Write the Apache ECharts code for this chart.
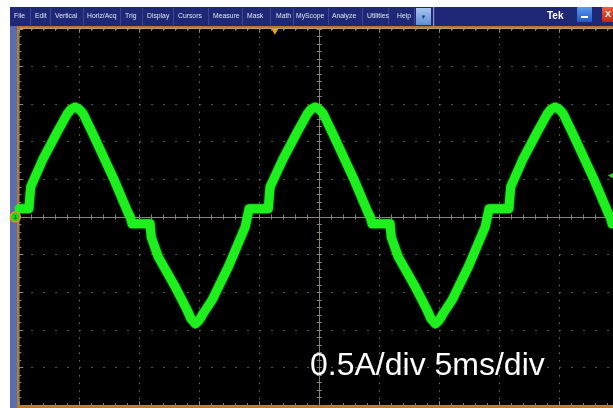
<!DOCTYPE html>
<html><head><meta charset="utf-8">
<script src="https://cdn.jsdelivr.net/npm/echarts@6/dist/echarts.min.js"></script>
<style>html,body{margin:0;padding:0;background:#fff;}#c{width:613px;height:408px;}</style>
</head><body><div id="c"></div>
<script>
// Waveform: time in ms, current in A
const timeMs = [0, 0.8, 0.95, 2.0, 3.17, 4.0, 4.3, 4.67, 5.0, 5.33, 6.17, 7.83, 9.08, 9.25, 9.4, 10.9, 11.0, 11.58, 13.0, 14.0, 14.3, 14.67, 15.0, 15.33, 16.08, 17.42, 18.83, 19.0, 19.15, 20.75, 20.9, 22.0, 23.17, 24.0, 24.3, 24.67, 25.0, 25.33, 26.17, 27.83, 29.08, 29.25, 29.4, 30.9, 31.0, 31.58, 33.0, 34.0, 34.3, 34.67, 35.0, 35.33, 36.08, 37.42, 38.83, 39.0, 39.15, 40.8, 40.95, 42.0, 43.17, 44.0, 44.3, 44.67, 45.0, 45.33, 46.17, 47.83, 49.08, 49.25, 49.4, 50];
const currentA = [0.11, 0.11, 0.40, 0.78, 1.13, 1.37, 1.43, 1.46, 1.43, 1.37, 1.09, 0.52, 0.05, 0.0, -0.09, -0.09, -0.27, -0.53, -0.93, -1.24, -1.35, -1.42, -1.37, -1.28, -1.10, -0.66, -0.13, 0.0, 0.11, 0.11, 0.40, 0.78, 1.13, 1.37, 1.43, 1.46, 1.43, 1.37, 1.09, 0.52, 0.05, 0.0, -0.09, -0.09, -0.27, -0.53, -0.93, -1.24, -1.35, -1.42, -1.37, -1.28, -1.10, -0.66, -0.13, 0.0, 0.11, 0.11, 0.40, 0.78, 1.13, 1.37, 1.43, 1.46, 1.43, 1.37, 1.09, 0.52, 0.05, 0.0, -0.09, -0.09];
const timeRange = [0, 50];      // 10 div x 5 ms
const currentRange = [-2.5, 2.5]; // 10 div x 0.5 A
const timePerDiv = 5;
const ampPerDiv = 0.5;
const triggerTimeMs = 21.3;
const triggerLevelA = 0.55;
const scaleLabel = '0.5A/div 5ms/div';
const menuItems = ['File', 'Edit', 'Vertical', 'Horiz/Acq', 'Trig', 'Display', 'Cursors', 'Measure', 'Mask', 'Math', 'MyScope', 'Analyze', 'Utilities', 'Help'];
const brandText = 'Tek';

// layout of the window chrome (pixels)
const menuX = [14, 35, 55, 87, 125, 147, 178, 213, 247, 276, 296, 332, 367, 397];
const sepX = [30, 50, 83, 120, 142, 173, 208, 242, 270, 293, 328, 362, 388, 414];

const chart = echarts.init(document.getElementById('c'), null, {renderer: 'canvas', width: 613, height: 408});
const data = timeMs.map((t, i) => [t, currentA[i]]);

const ORANGE = '#b97a2e';
const graphic = [
  {type: 'rect', shape: {x: 10, y: 7, width: 603, height: 19.5}, style: {fill: '#1f2877'}, z: 3},
  {type: 'rect', shape: {x: 10, y: 26, width: 603, height: 2.5}, style: {fill: ORANGE}, z: 3},
  {type: 'rect', shape: {x: 10, y: 26, width: 7, height: 382}, style: {fill: '#5a6bae'}, z: 3},
  {type: 'rect', shape: {x: 17, y: 26, width: 2, height: 382}, style: {fill: ORANGE}, z: 3},
  {type: 'rect', shape: {x: 17, y: 405.3, width: 596, height: 2.7}, style: {fill: ORANGE}, z: 3}
];
sepX.forEach(x => graphic.push({type: 'rect', shape: {x: x, y: 8, width: 1, height: 17}, style: {fill: '#3b4690'}, z: 4}));
menuItems.forEach((m, i) => graphic.push({type: 'text', x: menuX[i], y: 16.5, style: {text: m, fill: '#dfe3f0', font: '6.8px "Liberation Sans", Arial, sans-serif', textVerticalAlign: 'middle'}, z: 4}));
graphic.push(
  {type: 'rect', shape: {x: 416, y: 8, width: 15, height: 17}, style: {fill: new echarts.graphic.LinearGradient(0, 0, 0, 1, [{offset: 0, color: '#a9c6ee'}, {offset: 1, color: '#5f8ed6'}])}, z: 4},
  {type: 'text', x: 423.5, y: 17, style: {text: '▼', fill: '#1d3c8a', font: '6px sans-serif', align: 'center', textVerticalAlign: 'middle'}, z: 5},
  {type: 'rect', shape: {x: 433, y: 7, width: 1.2, height: 19.5}, style: {fill: '#8d95c6'}, z: 4},
  {type: 'text', x: 547, y: 16, style: {text: brandText, fill: '#ffffff', font: 'bold 10px "Liberation Sans", Arial, sans-serif', textVerticalAlign: 'middle'}, z: 4},
  {type: 'rect', shape: {x: 577, y: 7, width: 15, height: 15, r: 1}, style: {fill: new echarts.graphic.LinearGradient(0, 0, 0, 1, [{offset: 0, color: '#5a9af0'}, {offset: 1, color: '#2358c8'}])}, z: 4},
  {type: 'rect', shape: {x: 581, y: 16, width: 7, height: 2}, style: {fill: '#ffffff'}, z: 5},
  {type: 'rect', shape: {x: 602, y: 7, width: 15, height: 15, r: 1}, style: {fill: new echarts.graphic.LinearGradient(0, 0, 0, 1, [{offset: 0, color: '#f06040'}, {offset: 1, color: '#c02810'}])}, z: 4},
  {type: 'text', x: 605, y: 14.5, style: {text: 'X', fill: '#ffffff', font: 'bold 9px sans-serif', textVerticalAlign: 'middle'}, z: 5}
);

const TICK = '#8a8a8a';
const hiddenX = {type: 'value', min: timeRange[0], max: timeRange[1], interval: timePerDiv, axisLabel: {show: false}};
const option = {
  animation: false,
  backgroundColor: '#ffffff',
  grid: {left: 19.3, top: 28.75, right: -6.3, bottom: 2.75, show: true, backgroundColor: '#000000', borderWidth: 0, outerBoundsMode: 'none'},
  title: {text: scaleLabel, left: 310, top: 350, padding: 0, textStyle: {color: '#ffffff', fontSize: 32, fontWeight: 'normal', fontFamily: '"Liberation Sans", Arial, sans-serif'}, z: 20},
  graphic: graphic,
  xAxis: [
    Object.assign({}, hiddenX, {position: 'bottom', axisLine: {show: false, onZero: false},
      axisTick: {show: true, inside: true, length: 4, lineStyle: {color: TICK}},
      minorTick: {show: true, splitNumber: 5, length: 2, lineStyle: {color: TICK}},
      splitLine: {show: true, lineStyle: {color: '#707070', width: 1, type: [1.5, 6.03]}}}),
    Object.assign({}, hiddenX, {position: 'top', axisLine: {show: false, onZero: false},
      axisTick: {show: true, inside: true, length: 4, lineStyle: {color: TICK}},
      minorTick: {show: true, splitNumber: 5, length: 2, lineStyle: {color: TICK}}, splitLine: {show: false}}),
    Object.assign({}, hiddenX, {position: 'bottom', axisLine: {show: true, onZero: true, onZeroAxisIndex: 0, lineStyle: {color: '#8a8478', width: 1}},
      axisTick: {show: true, length: 2.5, lineStyle: {color: '#8a8478'}},
      minorTick: {show: true, splitNumber: 5, length: 2.5, lineStyle: {color: '#8a8478'}}, splitLine: {show: false}}),
    Object.assign({}, hiddenX, {position: 'top', axisLine: {show: false, onZero: true, onZeroAxisIndex: 0},
      axisTick: {show: true, length: 2.5, lineStyle: {color: '#8a8478'}},
      minorTick: {show: true, splitNumber: 5, length: 2.5, lineStyle: {color: '#8a8478'}}, splitLine: {show: false}}),
    {type: 'value', min: -timeRange[1] / 2, max: timeRange[1] / 2, show: false, axisLine: {onZero: false}}
  ],
  yAxis: [
    {type: 'value', min: currentRange[0], max: currentRange[1], interval: ampPerDiv, position: 'left',
      axisLine: {show: false, onZero: false}, axisLabel: {show: false},
      axisTick: {show: true, inside: true, length: 4, lineStyle: {color: TICK}},
      minorTick: {show: true, splitNumber: 5, length: 2, lineStyle: {color: TICK}},
      splitLine: {show: true, lineStyle: {color: '#707070', width: 1, type: [1.5, 10.5]}}},
    {type: 'value', min: currentRange[0], max: currentRange[1], interval: ampPerDiv, position: 'left',
      axisLine: {show: true, onZero: true, onZeroAxisIndex: 4, lineStyle: {color: '#8a8478', width: 1}}, axisLabel: {show: false},
      axisTick: {show: true, length: 2.5, lineStyle: {color: '#8a8478'}},
      minorTick: {show: true, splitNumber: 5, length: 2.5, lineStyle: {color: '#8a8478'}}, splitLine: {show: false}},
    {type: 'value', min: currentRange[0], max: currentRange[1], interval: ampPerDiv, position: 'right',
      axisLine: {show: false, onZero: true, onZeroAxisIndex: 4}, axisLabel: {show: false},
      axisTick: {show: true, length: 2.5, lineStyle: {color: '#8a8478'}},
      minorTick: {show: true, splitNumber: 5, length: 2.5, lineStyle: {color: '#8a8478'}}, splitLine: {show: false}}
  ],
  series: [{
    type: 'line', xAxisIndex: 0, yAxisIndex: 0, data: data, showSymbol: false, z: 5,
    lineStyle: {color: '#1ef01e', width: 9, join: 'round', cap: 'round', shadowBlur: 2, shadowColor: 'rgba(40,255,40,0.8)'},
    markPoint: {
      silent: true, z: 8,
      data: [
        {coord: [triggerTimeMs, currentRange[1]], symbol: 'triangle', symbolRotate: 180, symbolSize: [7, 6], symbolOffset: [0, 3], itemStyle: {color: '#f0a020'}, label: {show: false}},
        {coord: [timeRange[1] - 0.7, triggerLevelA], symbol: 'triangle', symbolRotate: 90, symbolSize: [6, 6], itemStyle: {color: '#22dd22'}, label: {show: false}},
        {coord: [timeRange[0], 0], symbol: 'circle', symbolSize: 10, symbolOffset: [-4, 0], itemStyle: {color: '#20d020', borderColor: '#f09018', borderWidth: 1.5},
          label: {show: true, position: 'inside', formatter: '1', fontSize: 6, color: '#0a400a'}}
      ]
    }
  }]
};
chart.setOption(option);
</script></body></html>
